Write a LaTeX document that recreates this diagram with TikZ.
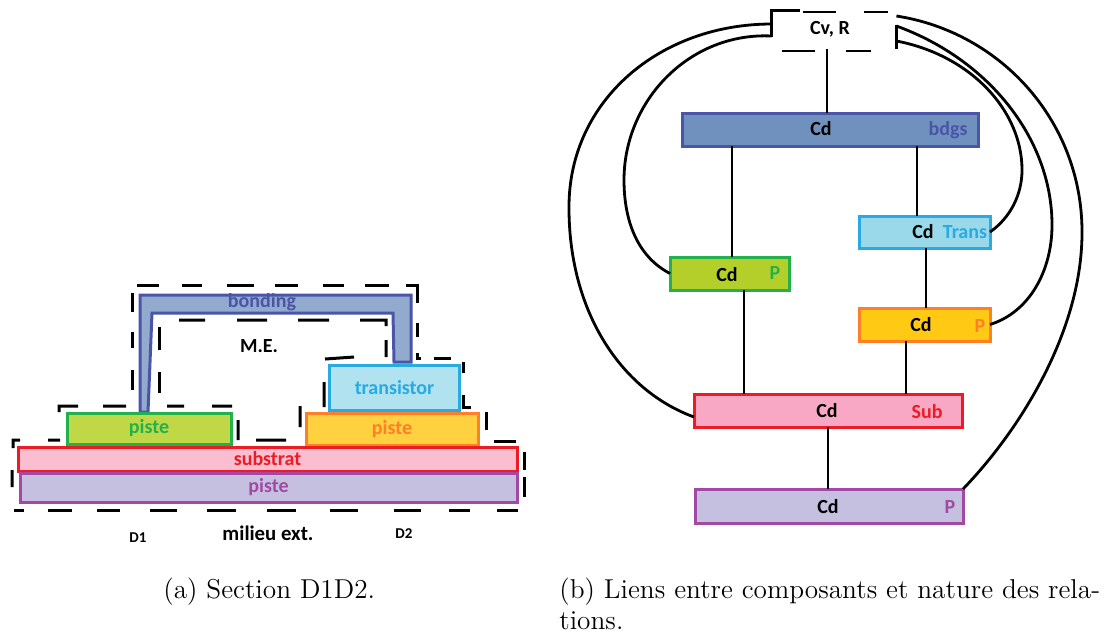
\documentclass[tikz,border=0pt]{standalone}
\usepackage{fontspec}
\usepackage{tikz}
\usetikzlibrary{positioning}
\newfontfamily\figfont{Carlito}
\definecolor{colorbond}     {RGB}{74 ,85 ,168}
\definecolor{colorbondfill} {RGB}{146,170,205}
\definecolor{colorbdgsfill} {RGB}{112,145,189}
\definecolor{colorpiste}    {RGB}{34 ,177,76 }
\definecolor{colorpistefill}{RGB}{192,216,70 }
\definecolor{colorpfill}    {RGB}{181,207,42 }
\definecolor{colortrans}    {RGB}{41 ,170,225}
\definecolor{colortransfill}{RGB}{176,226,240}
\definecolor{colortrfill}   {RGB}{153,217,234}
\definecolor{colorsold}     {RGB}{255,127,39 }
\definecolor{colorsoldfill} {RGB}{255,208,64 }
\definecolor{colorsfill}    {RGB}{255,201,20 }
\definecolor{colorsub}      {RGB}{237,28 ,36 }
\definecolor{colorsubfill}  {RGB}{250,190,208}
\definecolor{colorsbfill}   {RGB}{248,168,196}
\definecolor{colorbase}     {RGB}{163,73 ,164}
\definecolor{colorbasefill} {RGB}{197,191,224}
\begin{document}
\begin{tikzpicture}[
    x=0.5pt, y=-0.5pt,
    font={\figfont\bfseries\fontsize{10}{12}\selectfont},
    comp/.style={draw,line width=1.5pt,inner sep=0pt,outer sep=0pt},
    region/.style={line width=1.5pt},
    link/.style={line width=1.4pt},
    cdtxt/.style={text=black,inner sep=0pt},
    legend/.style={font={\rmfamily\mdseries\fontsize{13.65}{15.5}\selectfont},inner sep=0pt,align=left},
]
    \useasboundingbox (0,0) rectangle (1106,634);

    % Section: dashes round the domains
    \draw[region] (137,285) -- (159,285) (182,285) -- (202,285) (227,285) -- (254,285) (275,285) -- (298,285)
        (323,285) -- (344,285) (365,285) -- (389,285) (406,285) -- (417,285) -- (417,303)
        (417,323) -- (417,337) (417,353) -- (417,358) -- (421,358) (434,358) -- (451,358)
        (463,362) -- (463,373) (463,395) -- (463,407) -- (471,407) (486,412) -- (486,430)
        (494,441) -- (516,441) (524,452) -- (524,470) (524,477) -- (524,497);
    \draw[region] (518,510) -- (497,510) (470,510) -- (449,510) (421,510) -- (394,510) (358,510) -- (330,510)
        (296,510) -- (267,510) (236,510) -- (207,510) (177,510) -- (150,510) (120,510) -- (97,510)
        (72,510) -- (48,510) (24,510) -- (14,510);
    \draw[region] (12,487) -- (12,470) (13,448) -- (13,440) -- (20,440) (48,440) -- (60,440)
        (59,412) -- (59,406) -- (78,406) (103,406) -- (126,406) (167,406) -- (184,406) (212,406) -- (232,406)
        (238,420) -- (238,440) (256,440) -- (286,440) (300,427) -- (300,406) (324,407) -- (324,382)
        (325,359) -- (354,357) (386,357) -- (386,340) (386,326) -- (386,320) -- (360,320)
        (329,320) -- (298,320) (267,320) -- (237,320) (205,320) -- (179,320);
    \draw[region] (132,293) -- (132,312) (132,332) -- (132,348) (132,370) -- (132,390)
        (159,327) -- (159,350) (159,372) -- (159,393);

    % Section: bonding
    \draw[comp,draw=colorbond,fill=colorbondfill] (140,295) -- (411,295) -- (411,362) -- (394,362)
        -- (393,313) -- (152,313) -- (148,412) -- (140,412) -- cycle;
    \node[cdtxt,text=colorbond] (bonding) at (262,302) {bonding};
    \node[cdtxt] (me) at (259,346) {M.E.};

    % Section: layers
    \node[comp,draw=colortrans,fill=colortransfill,minimum width=65pt,minimum height=22.5pt,text=colortrans] (transistor) at (394.5,387.5) {transistor};
    \node[comp,draw=colorpiste,fill=colorpistefill,minimum width=82pt,minimum height=15.5pt,text=colorpiste] (pistea) at (149,428.5) {piste};
    \node[comp,draw=colorsold,fill=colorsoldfill,minimum width=86pt,minimum height=16pt,text=colorsold] (pisteb) at (392,429) {piste};
    \node[comp,draw=colorsub,fill=colorsubfill,minimum width=249.5pt,minimum height=12pt,text=colorsub] (substrat) at (267.5,459) {substrat};
    \node[comp,draw=colorbase,fill=colorbasefill,minimum width=248.5pt,minimum height=14.5pt,text=colorbase,below=1pt of substrat,xshift=0.5pt] (pistec) {piste};

    \node[cdtxt,font={\figfont\bfseries\fontsize{7.5}{9}\selectfont}] (dun) at (138,538) {D1};
    \node[cdtxt,font={\figfont\bfseries\fontsize{10.4}{12}\selectfont}] (milieu) at (268,533) {milieu ext.};
    \node[cdtxt,font={\figfont\bfseries\fontsize{7.5}{9}\selectfont}] (ddeux) at (404,534) {D2};

    % Links: nodes
    \node[inner sep=0pt,minimum width=62pt,minimum height=19pt] (cvr) at (834,30) {};
    \node[cdtxt] (cvrtxt) at (830,29) {Cv, R};
    \node[comp,draw=colorbond,fill=colorbdgsfill,minimum width=148pt,minimum height=16.5pt] (bdgs) at (830,129.5) {};
    \node[comp,draw=colorpiste,fill=colorpfill,minimum width=59.5pt,minimum height=16.5pt] (pad) at (729.5,273.5) {};
    \node[comp,draw=colortrans,fill=colortrfill,minimum width=65.5pt,minimum height=16pt] (trans) at (924.5,232) {};
    \node[comp,draw=colorsold,fill=colorsfill,minimum width=65.5pt,minimum height=16.5pt] (sold) at (924.5,324.5) {};
    \node[comp,draw=colorsub,fill=colorsbfill,minimum width=134pt,minimum height=16.5pt] (sub) at (828,410.5) {};
    \node[comp,draw=colorbase,fill=colorbasefill,minimum width=134pt,minimum height=17pt] (base) at (829,506) {};

    % Links: labels
    \node[cdtxt] (bdgscd) at (821,129) {Cd};
    \node[cdtxt,text=colorbond] (bdgsname) at (948,130) {bdgs};
    \node[cdtxt] (padcd) at (727,275) {Cd};
    \node[cdtxt,text=colorpiste] (padname) at (775,273) {P};
    \node[cdtxt] (transcd) at (923,232) {Cd};
    \node[cdtxt,text=colortrans] (transname) at (965,232) {Trans};
    \node[cdtxt] (soldcd) at (921,325) {Cd};
    \node[cdtxt,text=colorsold] (soldname) at (980,326) {P};
    \node[cdtxt] (subcd) at (827,411) {Cd};
    \node[cdtxt,text=colorsub] (subname) at (927,412) {Sub};
    \node[cdtxt] (basecd) at (828,507) {Cd};
    \node[cdtxt,text=colorbase] (basename) at (950,507) {P};

    % Links: straight
    \draw[link] ([xshift=-3.5pt]cvr.south) -- ([xshift=-1.5pt]bdgs.north);
    \draw[link] ([xshift=-49pt]bdgs.south) -- ([xshift=1.25pt]pad.north);
    \draw[link] ([xshift=43.5pt]bdgs.south) -- ([xshift=-3.75pt]trans.north);
    \draw[link] ([xshift=0.75pt]trans.south) -- ([xshift=0.75pt]sold.north);
    \draw[link] ([xshift=7.25pt]pad.south) -- ([xshift=-42pt]sub.north);
    \draw[link] ([xshift=-9.25pt]sold.south) -- ([xshift=39pt]sub.north);
    \draw[link] (sub.south) -- ([xshift=-0.5pt]base.north);

    % Links: dashed box of the top node
    \draw[line width=1.4pt] (cvr.north west) ++(0,-13pt) -- (cvr.north west) -- ++(14pt,0);
    \draw[line width=1.4pt] (803,12) -- (836,12) (864,12) -- (888,12) (782,51) -- (815,51) (846,51) -- (871,51);
    \draw[line width=1.4pt] (cvr.north east) ++(0,-7pt) -- (cvr.south east);

    % Links: curves
    \draw[link] ([yshift=3pt]cvr.west) .. controls (660,24) and (570,100) .. (569,205)
        .. controls (568,310) and (620,390) .. ([yshift=-3.25pt]sub.west);
    \draw[link] ([yshift=-3pt]cvr.west) .. controls (690,32) and (624,100) .. (624,180)
        .. controls (624,225) and (640,258) .. (pad.west);
    \draw[link] ([yshift=-5.5pt]cvr.east) .. controls (970,55) and (1022,110) .. (1022,170)
        .. controls (1022,195) and (1010,218) .. (trans.east);
    \draw[link] ([yshift=2pt]cvr.east) .. controls (990,60) and (1052,140) .. (1052,225)
        .. controls (1052,270) and (1030,312) .. (sold.east);
    \draw[link] ([yshift=7pt]cvr.east) .. controls (1000,32) and (1081,120) .. (1082,230)
        .. controls (1083,330) and (1020,430) .. (base.north east);

    % Captions
    \node[legend,anchor=base west] (captiona) at (163,598) {(a) Section D1D2.};
    \node[legend,anchor=base west] (captionb) at (559,629) {(b) Liens entre composants et nature des rela-\\tions.};
\end{tikzpicture}
\end{document}
